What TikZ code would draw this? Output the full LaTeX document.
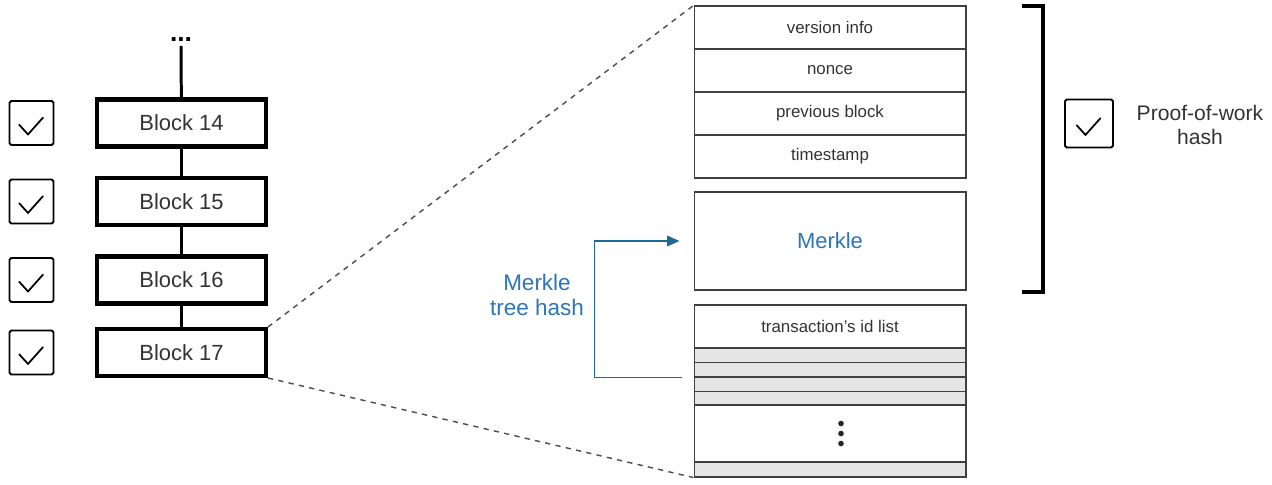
\documentclass[tikz,border=0pt]{standalone}
\usepackage{fontspec}
\setmainfont{Liberation Sans}
\usetikzlibrary{arrows.meta, calc}
\definecolor{merkleblue}{RGB}{46,117,182}
\definecolor{arrowblue}{RGB}{31,105,150}
\definecolor{rowgray}{RGB}{229,229,229}
\tikzset{
    block/.style={draw, line width=2.3pt, minimum width=3.38cm,
        minimum height=0.94cm, text=black!80,
        font=\fontsize{12.5}{14}\selectfont},
    checkbox/.style={draw, line width=1.1pt, rounded corners=1pt,
        minimum size=0.88cm,
        path picture={\draw[line width=1pt, sharp corners, line cap=round]
            ([shift={(-7pt,-1pt)}]path picture bounding box.center)
            -- ++(5pt,-5.5pt) -- ++(8.5pt,9.5pt);}},
    field/.style={draw=black!75, line width=0.6pt, minimum width=5.44cm,
        minimum height=0.86cm, text=black!80,
        font=\fontsize{9.6}{11}\selectfont},
    txrow/.style={draw=black!75, fill=rowgray, line width=0.6pt,
        minimum width=5.44cm, minimum height=0.285cm, inner sep=0pt},
    zoomline/.style={dashed, black!70, line width=0.8pt},
}

\begin{document}
\begin{tikzpicture}[x=0.02cm, y=-0.02cm]
    \useasboundingbox (0,0) rectangle (1272,484);
    % chain of blocks, each with its check
    \foreach \n/\y in {14/123, 15/201.5, 16/280, 17/352.5}{
        \node[block] (b\n) at (181.5,\y) {Block \n};
        \node[checkbox] (c\n) at (31.5,\y) {};
    }
    \node[font=\bfseries\fontsize{15}{16}\selectfont, inner sep=2pt]
        (dots) at (181,40) {...};
    \draw[line width=1.7pt] (dots.south) -- (b14);
    \foreach \a/\b in {14/15, 15/16, 16/17}
        \draw[line width=1.7pt] (b\a) -- (b\b);

    % header of block 17
    \node[field] (ver) at (830,27.5) {version info};
    \node[field] (nonce) at (830,70.5) {nonce};
    \node[field] (prev) at (830,113.5) {previous block};
    \node[field] (time) at (830,156.5) {timestamp};
    \node[field, minimum height=1.96cm, text=merkleblue,
        font=\fontsize{12.5}{14}\selectfont] (merkle) at (830,241) {Merkle};

    % transactions
    \node[field] (txlist) at (830,326.5) {transaction's id list};
    \foreach \i/\y in {1/355.6, 2/369.9, 3/384.1, 4/398.4}
        \node[txrow] (tx\i) at (830,\y) {};
    \node[field, minimum height=1.14cm] (txmore) at (830,433.5) {};
    \foreach \d in {-10,0,10}
        \fill[black!85] ($(txmore.center)+(11,\d)$) circle (1.6pt);
    \node[txrow, minimum height=0.3cm] (txlast) at (830,469.5) {};

    \draw[zoomline] (b17.north east) -- (ver.north west);
    \draw[zoomline] (b17.south east) -- (txlast.south west);

    % merkle tree hash
    \node[text=merkleblue, align=center,
        font=\fontsize{12.8}{14.5}\selectfont] (mlabel) at (537,295)
        {Merkle\\tree hash};
    \draw[arrowblue, line width=0.9pt, -{Triangle[length=7pt, width=6pt]}]
        ($(tx2.south west)+(-12,0)$) -- ++(-87,0)
        |- ($(merkle.west)+(-14,0)$);

    % proof-of-work bracket
    \draw[line width=1.8pt] (1022,6) -- (1043,6) -- (1043,292) -- (1022,292);
    \node[checkbox, minimum size=0.96cm] (cpow) at (1089,123.5) {};
    \node[align=center, text=black!80,
        font=\fontsize{12}{13.6}\selectfont] (pow) at (1200,125)
        {Proof-of-work\\hash};
\end{tikzpicture}
\end{document}
